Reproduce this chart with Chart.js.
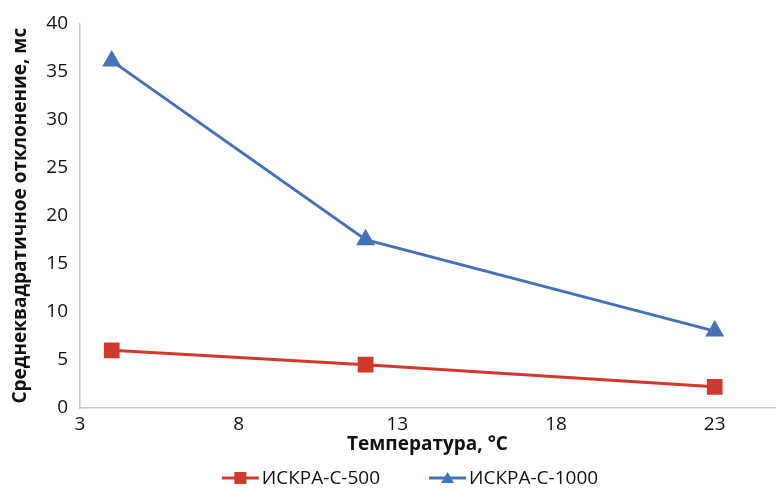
<!DOCTYPE html>
<html>
<head>
<meta charset="utf-8">
<script src="https://cdn.jsdelivr.net/npm/chart.js@4/dist/chart.umd.min.js"></script>
<style>
  html, body { margin: 0; padding: 0; background: #fff; }
  #wrap { width: 780px; height: 492px; }
</style>
</head>
<body>
<div id="wrap"><canvas id="chart"></canvas></div>
<script>
const temperatures = [4, 12, 23];
const iskra500 = [6.0, 4.5, 2.2];
const iskra1000 = [36.1, 17.5, 8.0];
const xTicks = [3, 8, 13, 18, 23];
const xMax = 24.9;

const RED = "#cf3a2c";
const BLUE = "#4672b4";
const FONT = "'Open Sans', 'Noto Sans', sans-serif";

// legend below the axis title: line with marker, then label
const lineLegend = {
  id: "lineLegend",
  afterDraw(chart) {
    const ctx = chart.ctx;
    const y = 478;
    const swW = 37, gapText = 3, gapItem = 49;
    ctx.save();
    ctx.font = "19px " + FONT;
    const items = chart.data.datasets.map((ds) => ({
      ds, w: swW + gapText + ctx.measureText(ds.label).width,
    }));
    const total = items.reduce((s, it) => s + it.w, 0) + gapItem * (items.length - 1);
    let x = chart.width / 2 + 20 - total / 2;
    items.forEach(({ ds, w }) => {
      const c = ds.borderColor;
      ctx.strokeStyle = c;
      ctx.lineWidth = 3;
      ctx.beginPath(); ctx.moveTo(x, y); ctx.lineTo(x + swW, y); ctx.stroke();
      ctx.fillStyle = c;
      const cx = x + swW / 2;
      ctx.beginPath();
      if (ds.pointStyle === "rect") {
        ctx.rect(cx - 6, y - 6, 12, 12);
      } else {
        ctx.moveTo(cx, y - 6); ctx.lineTo(cx + 6.5, y + 5); ctx.lineTo(cx - 6.5, y + 5); ctx.closePath();
      }
      ctx.fill();
      ctx.fillStyle = "#111";
      ctx.textBaseline = "middle";
      ctx.fillText(ds.label, x + swW + gapText, y + 1);
      x += w + gapItem;
    });
    ctx.restore();
  },
};

new Chart(document.getElementById("chart"), {
  type: "line",
  data: {
    datasets: [
      {
        label: "ИСКРА-С-500",
        data: temperatures.map((t, i) => ({ x: t, y: iskra500[i] })),
        borderColor: RED,
        backgroundColor: RED,
        borderWidth: 3,
        pointStyle: "rect",
        pointRadius: 9,
        pointHoverRadius: 9,
      },
      {
        label: "ИСКРА-С-1000",
        data: temperatures.map((t, i) => ({ x: t, y: iskra1000[i] })),
        borderColor: BLUE,
        backgroundColor: BLUE,
        borderWidth: 3,
        pointStyle: "triangle",
        pointRadius: 8,
        pointHoverRadius: 8,
      },
    ],
  },
  plugins: [lineLegend],
  options: {
    responsive: true,
    maintainAspectRatio: false,
    animation: false,
    layout: { autoPadding: false, padding: { top: 20, right: 5, left: 0, bottom: 36 } },
    plugins: {
      tooltip: { enabled: false },
      legend: { display: false },
    },
    scales: {
      x: {
        type: "linear",
        min: 3,
        max: xMax,
        afterBuildTicks: (axis) => {
          // keep an unlabeled tick at the axis end so no extra right padding is added
          axis.ticks = xTicks.concat([xMax]).map((v) => ({ value: v }));
        },
        afterFit: (scale) => { scale.height = 48; },
        grid: { display: false, drawTicks: false },
        border: { color: "#c8c8c8", width: 1.5 },
        ticks: {
          color: "#111",
          padding: 5,
          font: { family: FONT, size: 19 },
          callback: (v) => (xTicks.includes(v) ? v : ""),
        },
        title: {
          display: true,
          text: "Температура, °C",
          color: "#111",
          padding: { top: 0, bottom: 0 },
          font: { family: FONT, size: 19, weight: "bold" },
        },
      },
      y: {
        min: 0,
        max: 40,
        afterFit: (scale) => { scale.width = 80; },
        grid: { display: false, drawTicks: false },
        border: { color: "#c8c8c8", width: 1.5 },
        ticks: { stepSize: 5, color: "#111", padding: 12, font: { family: FONT, size: 19 } },
        title: {
          display: true,
          text: "Среднеквадратичное отклонение, мс",
          color: "#111",
          padding: { top: 9, bottom: 0 },
          font: { family: FONT, size: 19, weight: "bold" },
        },
      },
    },
  },
});
</script>
</body>
</html>
